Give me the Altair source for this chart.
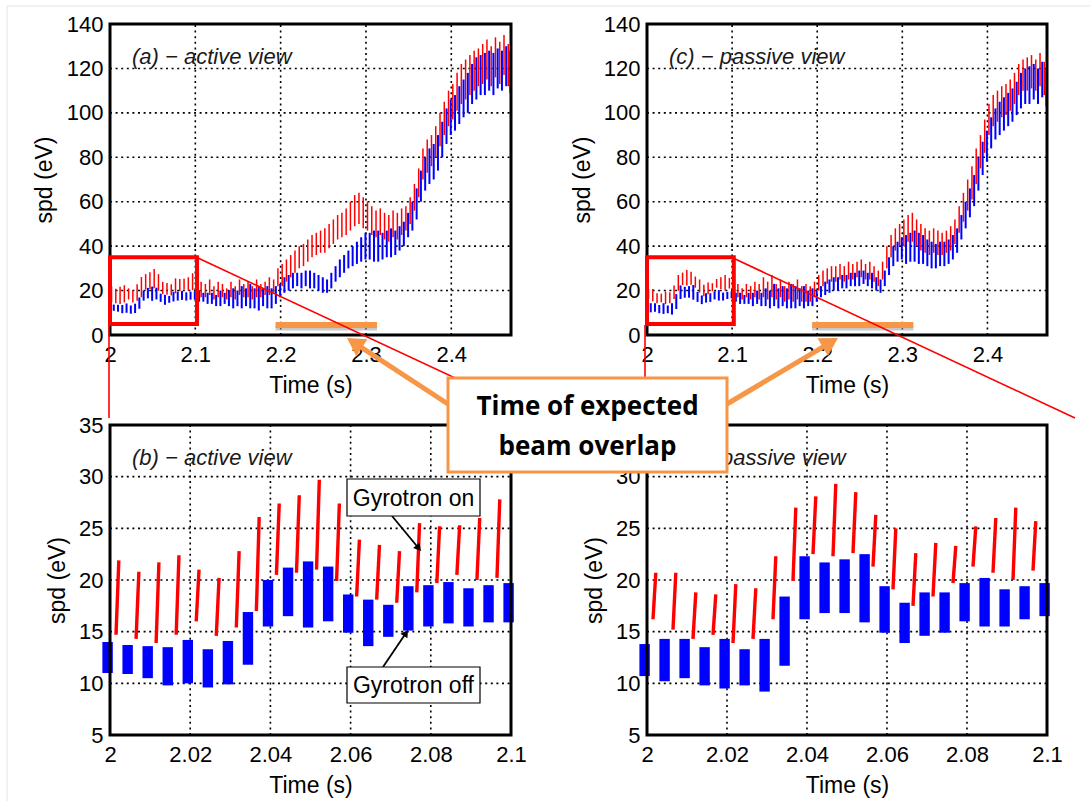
import math
import altair as alt
import pandas as pd

W, H = 1090, 801
FONT = "Liberation Sans"
RED = "#ff0000"
BLUE = "#0000ff"
ORANGE = "#f79646"

# gyrotron modulation: spikes every 5 ms starting at 2.0018 s
SPIKE_T0 = 2.0018
PERIOD = 0.005

# ---------------- zoomed panels (b) and (d): 2.0 - 2.1 s ----------------
b_red_lo = [14.7, 14.3, 13.9, 14.7, 16.0, 14.6, 15.4, 17.0, 20.5, 20.7,
            21.0, 19.9, 18.4, 18.1, 17.8, 18.8, 19.7, 20.5, 20.0, 20.2]
b_red_hi = [21.9, 20.8, 21.7, 22.4, 21.0, 20.2, 22.8, 26.1, 27.4, 28.2,
            29.7, 27.4, 23.9, 23.4, 22.8, 25.5, 25.2, 25.3, 26.0, 27.8]
b_blue_lo = [11.0, 10.9, 10.5, 9.8, 10.0, 9.6, 9.9, 11.8, 15.5, 16.5,
             15.4, 16.0, 14.9, 13.6, 14.5, 15.1, 15.5, 15.8, 15.5, 15.9, 15.9]
b_blue_hi = [14.0, 13.7, 13.6, 13.5, 14.2, 13.3, 14.1, 16.9, 20.0, 21.2,
             21.8, 21.3, 18.6, 18.1, 17.6, 19.4, 19.5, 19.8, 19.2, 19.5, 19.7]

d_red_lo = [16.2, 15.2, 14.3, 14.7, 13.9, 14.3, 16.2, 19.9, 22.5, 22.3,
            22.6, 21.3, 19.1, 17.5, 18.4, 19.7, 21.3, 20.7, 20.0, 20.9]
d_red_hi = [20.7, 20.7, 18.8, 18.6, 19.6, 19.2, 22.3, 27.0, 28.1, 29.3,
            28.5, 26.3, 25.0, 22.6, 23.6, 23.3, 25.2, 26.0, 27.0, 25.7]
d_blue_lo = [10.7, 10.2, 10.5, 9.8, 9.5, 9.8, 9.2, 11.7, 16.2, 16.8,
             16.8, 15.9, 14.9, 13.9, 14.6, 14.9, 16.0, 15.5, 15.5, 16.2, 16.5]
d_blue_hi = [13.8, 14.3, 14.3, 13.5, 14.3, 13.3, 14.3, 18.4, 22.3, 21.7,
             22.0, 22.5, 19.4, 17.8, 18.8, 18.8, 19.7, 20.2, 19.1, 19.4, 19.7]

# ---------------- overview panels (a) and (c): continuation 2.1 - 2.47 s ----------------
a_red_hi_tail = [26, 24, 23, 25, 22, 24, 23, 21, 24, 22, 25, 23, 24, 22, 25, 23, 24, 26, 25, 30,
                 32, 34, 36, 38, 40, 41, 43, 45, 46, 47, 48, 50, 52, 54, 55, 57, 60, 63, 64, 62,
                 60, 58, 56, 57, 55, 54, 56, 55, 57, 58, 62, 68, 75, 84, 88, 90, 94, 100, 105, 110,
                 113, 118, 122, 124, 126, 128, 129, 131, 133, 130, 134, 132, 135, 131]
a_red_lo_tail = [18, 17, 17, 18, 16, 17, 17, 16, 17, 16, 18, 17, 17, 16, 17, 17, 18, 18, 19, 22,
                 22, 24, 26, 28, 30, 31, 33, 35, 36, 37, 37, 39, 41, 43, 44, 45, 47, 49, 50, 48,
                 47, 45, 44, 45, 43, 42, 44, 43, 45, 47, 50, 56, 62, 70, 73, 76, 80, 85, 90, 94,
                 97, 101, 104, 106, 108, 110, 112, 113, 115, 112, 116, 113, 117, 112]
a_blue_hi_tail = [20, 19, 19, 19, 18, 20, 19, 20, 21, 20, 22, 21, 23, 21, 22, 21, 22, 21, 22, 23,
                  26, 27, 28, 28, 28, 29, 29, 28, 27, 26, 25, 28, 31, 34, 36, 38, 40, 42, 44, 46,
                  46, 47, 47, 46, 47, 48, 47, 49, 51, 55, 60, 66, 74, 80, 84, 86, 90, 96, 102, 106,
                  108, 112, 115, 118, 122, 125, 126, 127, 128, 127, 129, 128, 130, 128]
a_blue_lo_tail = [15, 15, 14, 14, 13, 13, 14, 13, 12, 13, 12, 13, 12, 12, 11, 13, 12, 12, 14, 17,
                  19, 20, 21, 22, 21, 22, 21, 21, 20, 19, 19, 21, 24, 26, 28, 30, 31, 32, 33, 34,
                  34, 33, 33, 34, 35, 35, 36, 38, 40, 44, 47, 52, 60, 65, 68, 70, 74, 80, 86, 90,
                  92, 95, 98, 100, 104, 106, 108, 108, 110, 108, 111, 110, 112, 109]

c_red_hi_tail = [22, 23, 21, 23, 22, 24, 23, 26, 24, 27, 23, 25, 22, 24, 23, 25, 22, 23, 22, 24,
                 27, 29, 30, 31, 31, 32, 31, 33, 32, 33, 34, 32, 33, 31, 29, 33, 40, 45, 48, 50,
                 52, 54, 55, 52, 50, 48, 47, 48, 47, 46, 47, 49, 52, 58, 64, 70, 76, 84, 90, 97,
                 104, 108, 110, 112, 113, 115, 118, 122, 124, 125, 126, 124, 127, 123]
c_red_lo_tail = [17, 17, 16, 17, 16, 17, 16, 17, 16, 17, 16, 17, 15, 16, 15, 16, 15, 15, 15, 17,
                 20, 22, 23, 24, 24, 25, 24, 25, 25, 26, 26, 25, 25, 24, 22, 25, 30, 35, 38, 40,
                 40, 42, 42, 40, 38, 37, 36, 37, 36, 36, 37, 38, 41, 46, 51, 56, 61, 68, 75, 82,
                 90, 94, 96, 98, 99, 101, 104, 108, 110, 110, 111, 110, 112, 108]
c_blue_hi_tail = [19, 19, 18, 19, 19, 20, 19, 21, 20, 23, 21, 22, 21, 23, 22, 21, 22, 20, 21, 20,
                  22, 24, 25, 26, 26, 27, 27, 28, 28, 29, 29, 28, 28, 26, 25, 29, 35, 40, 42, 44,
                  45, 46, 47, 46, 45, 43, 42, 41, 42, 42, 43, 45, 48, 54, 60, 66, 72, 80, 87, 92,
                  98, 102, 105, 107, 109, 111, 114, 118, 120, 121, 122, 120, 123, 120]
c_blue_lo_tail = [15, 14, 14, 14, 13, 14, 13, 13, 12, 13, 12, 13, 12, 12, 12, 13, 12, 13, 13, 15,
                  17, 18, 19, 20, 20, 21, 21, 22, 22, 22, 23, 22, 21, 20, 19, 22, 27, 31, 33, 34,
                  32, 33, 33, 32, 32, 31, 30, 30, 31, 31, 32, 34, 37, 43, 48, 53, 58, 65, 72, 78,
                  84, 88, 90, 92, 94, 96, 99, 102, 104, 104, 106, 104, 107, 103]

top_xticks = [2.0, 2.1, 2.2, 2.3, 2.4]
top_yticks = [0, 20, 40, 60, 80, 100, 120, 140]
bot_xticks = [2.0, 2.02, 2.04, 2.06, 2.08, 2.1]
bot_yticks = [5, 10, 15, 20, 25, 30, 35]

# panel plot-area rectangles in page pixels: left, right, top, bottom
GEOM = {
    "a": (110, 511, 24, 335),
    "c": (647, 1047, 24, 335),
    "b": (110, 511, 425, 735),
    "d": (647, 1047, 425, 735),
}


def make_axes(geom, xticks, yticks, ytitle_dx):
    x0, x1, y0, y1 = geom
    ax_x = alt.Axis(orient="bottom", offset=y1 - H, values=xticks, format="~r",
                    grid=False, domain=False, ticks=False,
                    labelFont=FONT, labelFontSize=22, labelColor="black", labelPadding=9,
                    labelFlush=False, labelOverlap=False,
                    title="Time (s)", titleFont=FONT, titleFontSize=23, titleFontWeight="normal",
                    titleColor="black", titleX=(x0 + x1) / 2, titleY=57,
                    titleAlign="center", titleBaseline="alphabetic")
    ax_y = alt.Axis(orient="left", offset=-x0, values=yticks, format="d",
                    grid=False, domain=False, ticks=False,
                    labelFont=FONT, labelFontSize=22, labelColor="black", labelPadding=7,
                    labelFlush=False, labelOverlap=False,
                    title="spd (eV)", titleFont=FONT, titleFontSize=23, titleFontWeight="normal",
                    titleColor="black", titleX=ytitle_dx, titleY=(y0 + y1) / 2, titleAngle=270,
                    titleAlign="center", titleBaseline="middle")
    return ax_x, ax_y


def panel(key, xdom, ydom, xticks, yticks, ytitle_dx, data_layers_fn, title, extras_fn=None):
    geom = GEOM[key]
    x0, x1, y0, y1 = geom
    xs = alt.Scale(domain=xdom, range=[x0, x1], nice=False, zero=False)
    ys = alt.Scale(domain=ydom, range=[y1, y0], nice=False, zero=False)
    ax_x, ax_y = make_axes(geom, xticks, yticks, ytitle_dx)

    def X(f):
        return alt.X(f + ":Q", scale=xs, axis=ax_x)

    def Y(f):
        return alt.Y(f + ":Q", scale=ys, axis=ax_y)

    vgrid = pd.DataFrame({"gx": xticks[1:], "gy0": ydom[0], "gy1": ydom[1]})
    hgrid = pd.DataFrame({"gy": yticks[1:-1], "gx0": xdom[0], "gx1": xdom[1]})
    dots = dict(color="black", strokeDash=[2, 3.6], strokeWidth=1.6)
    layers = [
        alt.Chart(vgrid).mark_rule(**dots).encode(x=X("gx"), y=Y("gy0"), y2="gy1:Q"),
        alt.Chart(hgrid).mark_rule(**dots).encode(y=Y("gy"), x=X("gx0"), x2="gx1:Q"),
    ]
    layers += data_layers_fn(X, Y)
    frame = pd.DataFrame({"fx0": [xdom[0]], "fx1": [xdom[1]], "fy0": [ydom[0]], "fy1": [ydom[1]]})
    layers.append(alt.Chart(frame).mark_rect(fillOpacity=0, stroke="black", strokeWidth=3)
                  .encode(x=X("fx0"), x2="fx1:Q", y=Y("fy0"), y2="fy1:Q"))
    layers.append(alt.Chart(pd.DataFrame({"s": [title]})).mark_text(
        align="left", baseline="alphabetic", font=FONT, fontSize=22, fontStyle="italic",
        color="#1a1a1a").encode(x=alt.value(x0 + 22), y=alt.value(y0 + 40), text="s:N"))
    if extras_fn is not None:
        layers += extras_fn(X, Y)
    return alt.layer(*layers)


def top_data(red_lo, red_hi, blue_lo, blue_hi):
    def fn(X, Y):
        t = [SPIKE_T0 + PERIOD * k for k in range(len(red_lo))]
        red = pd.DataFrame({"t": t, "lo": red_lo, "hi": red_hi})
        blue = pd.DataFrame({"t": [v + 0.0026 for v in t], "lo": blue_lo, "hi": blue_hi})
        return [
            alt.Chart(red).mark_rule(color=RED, strokeWidth=1.5, clip=True)
            .encode(x=X("t"), y=Y("lo"), y2="hi:Q"),
            alt.Chart(blue).mark_rule(color=BLUE, strokeWidth=2.0, clip=True)
            .encode(x=X("t"), y=Y("lo"), y2="hi:Q"),
        ]
    return fn


def bottom_data(red_lo, red_hi, blue_lo, blue_hi):
    def fn(X, Y):
        t = [SPIKE_T0 + PERIOD * k for k in range(len(red_lo))]
        # each "on" burst rises slightly while it lasts
        red = pd.DataFrame({"ta": [v - 0.0003 for v in t], "tb": [v + 0.0004 for v in t],
                            "lo": red_lo, "hi": red_hi})
        t0 = [SPIKE_T0 + PERIOD * (j - 1) + 0.0013 for j in range(len(blue_lo))]
        blue = pd.DataFrame({"t0": t0, "t1": [v + 0.0026 for v in t0],
                             "lo": blue_lo, "hi": blue_hi})
        return [
            alt.Chart(blue).mark_rect(color=BLUE, clip=True)
            .encode(x=X("t0"), x2="t1:Q", y=Y("lo"), y2="hi:Q"),
            alt.Chart(red).mark_rule(color=RED, strokeWidth=3.4, clip=True)
            .encode(x=X("ta"), x2="tb:Q", y=Y("lo"), y2="hi:Q"),
        ]
    return fn


def top_extras(X, Y):
    box = pd.DataFrame({"x0": [2.0], "x1": [2.102], "y0": [5], "y1": [35]})
    bar = pd.DataFrame({"x0": [2.194], "x1": [2.313], "y": [4.5]})
    return [
        alt.Chart(bar).mark_rule(color="#9a9a9a", strokeWidth=5, opacity=0.55, yOffset=3)
        .encode(x=X("x0"), x2="x1:Q", y=Y("y")),
        alt.Chart(bar).mark_rule(color=ORANGE, strokeWidth=6)
        .encode(x=X("x0"), x2="x1:Q", y=Y("y")),
        alt.Chart(box).mark_rect(fillOpacity=0, stroke=RED, strokeWidth=4)
        .encode(x=X("x0"), x2="x1:Q", y=Y("y0"), y2="y1:Q"),
    ]


pa = panel("a", [2.0, 2.47], [0, 140], top_xticks, top_yticks, -66,
           top_data(b_red_lo + a_red_lo_tail, b_red_hi + a_red_hi_tail,
                    b_blue_lo[1:] + a_blue_lo_tail, b_blue_hi[1:] + a_blue_hi_tail),
           "(a) \u2212 active view", top_extras)
pc = panel("c", [2.0, 2.47], [0, 140], top_xticks, top_yticks, -65,
           top_data(d_red_lo + c_red_lo_tail, d_red_hi + c_red_hi_tail,
                    d_blue_lo[1:] + c_blue_lo_tail, d_blue_hi[1:] + c_blue_hi_tail),
           "(c) \u2212 passive view", top_extras)
pb = panel("b", [2.0, 2.1], [5, 35], bot_xticks, bot_yticks, -53,
           bottom_data(b_red_lo, b_red_hi, b_blue_lo, b_blue_hi), "(b) \u2212 active view")
pd_ = panel("d", [2.0, 2.1], [5, 35], bot_xticks, bot_yticks, -53,
            bottom_data(d_red_lo, d_red_hi, d_blue_lo, d_blue_hi), "(d) \u2212 passive view")

# ---------------- page-level annotations (pixel positions) ----------------
PX = dict(scale=None, axis=None)


def seg_layer(rows, color, width):
    df = pd.DataFrame(rows, columns=["x0", "y0", "x1", "y1"])
    return alt.Chart(df).mark_rule(color=color, strokeWidth=width).encode(
        x=alt.X("x0:Q", **PX), y=alt.Y("y0:Q", **PX), x2="x1:Q", y2="y1:Q")


def arrow(start, tip, size):
    dx, dy = tip[0] - start[0], tip[1] - start[1]
    L = math.hypot(dx, dy)
    ux, uy = dx / L, dy / L
    h = math.sqrt(3) * (math.sqrt(size) / 2) / 2
    cx, cy = tip[0] - ux * h, tip[1] - uy * h
    ang = math.degrees(math.atan2(ux, -uy)) % 360
    return (start[0], start[1], cx, cy), (cx, cy, ang)


def head_layer(rows, color, size):
    df = pd.DataFrame(rows, columns=["x", "y", "ang"])
    return alt.Chart(df).mark_point(shape="triangle-up", filled=True, color=color, size=size,
                                    opacity=1, strokeWidth=0).encode(
        x=alt.X("x:Q", **PX), y=alt.Y("y:Q", **PX), angle=alt.Angle("ang:Q", scale=None))


page_edge = alt.Chart(pd.DataFrame({"x0": [7], "x1": [1100], "y0": [6], "y1": [820]})).mark_rect(
    fillOpacity=0, stroke="#e3e3e3", strokeWidth=1).encode(
    x=alt.X("x0:Q", **PX), x2="x1:Q", y=alt.Y("y0:Q", **PX), y2="y1:Q")

red_links = seg_layer([(109, 325, 109, 418), (198, 258, 560, 427),
                       (645, 325, 645, 400), (733, 258, 1075, 418)], RED, 1.6)

o_l_line, o_l_head = arrow((448, 404), (347, 338), 420)
o_r_line, o_r_head = arrow((727, 404), (838, 338), 420)
orange_arrows = seg_layer([o_l_line, o_r_line], ORANGE, 5)
orange_heads = head_layer([o_l_head, o_r_head], ORANGE, 420)

callout_box = alt.Chart(pd.DataFrame({"x0": [448], "x1": [727], "y0": [378], "y1": [472]})).mark_rect(
    fill="white", stroke=ORANGE, strokeWidth=3).encode(
    x=alt.X("x0:Q", **PX), x2="x1:Q", y=alt.Y("y0:Q", **PX), y2="y1:Q")
callout_text = alt.Chart(pd.DataFrame({"s": ["Time of expected", "beam overlap"],
                                       "x": [587.5, 587.5], "y": [415, 455]})).mark_text(
    font="Open Sans", fontWeight="bold", fontSize=26, color="black", align="center",
    baseline="alphabetic").encode(x=alt.X("x:Q", **PX), y=alt.Y("y:Q", **PX), text="s:N")

g_on_line, g_on_head = arrow((392, 516), (421, 551), 70)
g_off_line, g_off_head = arrow((383, 667), (408, 630), 70)
gyro_arrows = seg_layer([g_on_line, g_off_line], "black", 1.8)
gyro_heads = head_layer([g_on_head, g_off_head], "black", 70)
gyro_boxes = alt.Chart(pd.DataFrame({"x0": [347, 347], "x1": [480, 480],
                                     "y0": [479, 667], "y1": [516, 703]})).mark_rect(
    fill="white", stroke="black", strokeWidth=1.2).encode(
    x=alt.X("x0:Q", **PX), x2="x1:Q", y=alt.Y("y0:Q", **PX), y2="y1:Q")
gyro_text = alt.Chart(pd.DataFrame({"s": ["Gyrotron on", "Gyrotron off"],
                                    "x": [413.5, 413.5], "y": [506, 693]})).mark_text(
    font=FONT, fontSize=23, color="black", align="center", baseline="alphabetic").encode(
    x=alt.X("x:Q", **PX), y=alt.Y("y:Q", **PX), text="s:N")

chart = alt.layer(
    page_edge, pa, pc, pb, pd_,
    red_links, gyro_arrows, gyro_heads, gyro_boxes, gyro_text,
    orange_arrows, orange_heads, callout_box, callout_text,
).resolve_scale(x="independent", y="independent").resolve_axis(
    x="independent", y="independent"
).properties(
    width=W, height=H, padding=0, autosize=alt.AutoSizeParams(type="none"),
    background="white",
).configure_view(stroke=None)

chart.save("out.html", embed_options={"renderer": "svg", "actions": False})
